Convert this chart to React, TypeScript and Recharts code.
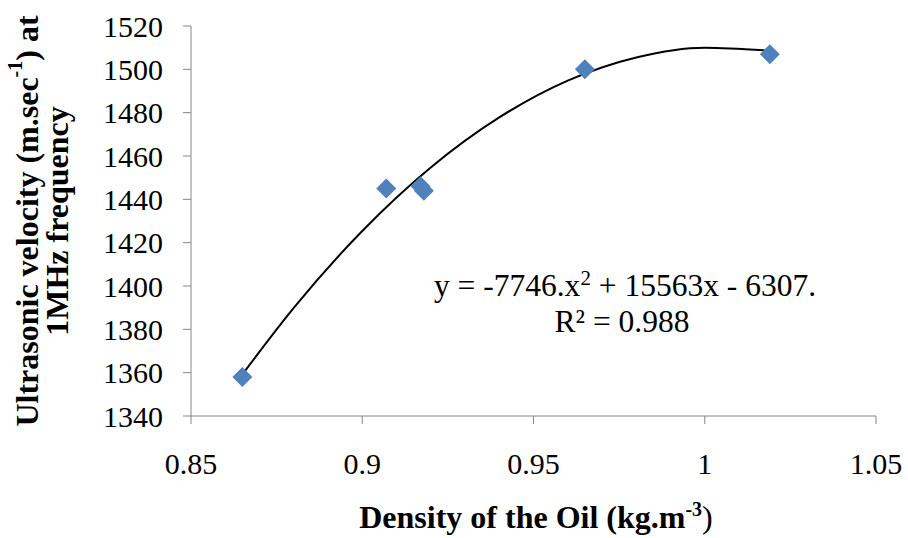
import React from 'react';
import { ComposedChart, Line, Scatter, XAxis, YAxis, Label } from 'recharts';

// measured samples (density kg/m3, ultrasonic velocity m/s)
const density = [0.865, 0.907, 0.917, 0.918, 0.965, 1.019];
const velocity = [1358, 1445, 1446, 1444, 1500, 1507];

// poly trendline
const trendX = [0.865, 0.88, 0.9, 0.92, 0.94, 0.96, 0.98, 1.0, 1.019];
const trendY = [1359.2, 1389.9, 1425.4, 1454.7, 1477.8, 1494.8, 1505.5, 1510, 1508.6];

const xTicks = [0.85, 0.9, 0.95, 1, 1.05];
const yTicks = [1340, 1360, 1380, 1400, 1420, 1440, 1460, 1480, 1500, 1520];

const points = density.map((x, i) => ({ x, y: velocity[i] }));
const trend = trendX.map((x, i) => ({ x, y: trendY[i] }));

const FONT = 'Liberation Serif';
const AXIS = '#868686';

const Diamond = (props: any) => {
    const { cx, cy } = props;
    const r = 10;
    return (
        <polygon
            points={`${cx},${cy - r} ${cx + r},${cy} ${cx},${cy + r} ${cx - r},${cy}`}
            fill="#4F81BD"
        />
    );
};

const XTitle = () => (
    <text x={536} y={528} textAnchor="middle" fontFamily={FONT} fontWeight="bold" fontSize={32} fill="#000">
        Density of the Oil (kg.m<tspan dy={-12} fontSize={20}>-3</tspan>
        <tspan dy={12} fontSize={32} fontWeight="normal">)</tspan>
    </text>
);

const YTitle = () => (
    <g fontFamily={FONT} fontWeight="bold" fontSize={32} fill="#000">
        <text x={27} y={221} textAnchor="middle" dominantBaseline="central" transform="rotate(-90 27 221)">
            Ultrasonic velocity  (m.sec<tspan dy={-12} fontSize={20}>-1</tspan>
            <tspan dy={12} fontSize={32}>) at</tspan>
        </text>
        <text x={57} y={221} textAnchor="middle" dominantBaseline="central" transform="rotate(-90 57 221)">
            1MHz frequency
        </text>
    </g>
);

const Equation = () => (
    <g fontFamily={FONT} fontSize={31.5} fill="#000">
        <text x={625} y={296} textAnchor="middle">
            y = -7746.x<tspan dy={-11} fontSize={21}>2</tspan>
            <tspan dy={11}> + 15563x - 6307.</tspan>
        </text>
        <text x={622} y={332} textAnchor="middle">R² = 0.988</text>
    </g>
);

export default function App() {
    return (
        <div style={{ position: 'absolute', left: 0, top: 0 }}>
            <ComposedChart width={908} height={538} margin={{ top: 26, right: 32, bottom: 0, left: 0 }}>
                <XAxis
                    type="number"
                    dataKey="x"
                    domain={[0.85, 1.05]}
                    ticks={xTicks}
                    tickFormatter={(v: number) => String(v)}
                    height={122}
                    stroke={AXIS}
                    tickSize={8}
                    tickMargin={29}
                    tick={{ fill: '#000', fontSize: 30, fontFamily: FONT }}
                    allowDataOverflow
                >
                    <Label content={<XTitle />} />
                </XAxis>
                <YAxis
                    type="number"
                    dataKey="y"
                    domain={[1340, 1520]}
                    ticks={yTicks}
                    width={191}
                    stroke={AXIS}
                    tickSize={8}
                    tickMargin={20}
                    tick={{ fill: '#000', fontSize: 30, fontFamily: FONT }}
                    allowDataOverflow
                >
                    <Label content={<YTitle />} />
                </YAxis>
                <Line
                    data={trend}
                    dataKey="y"
                    type="monotone"
                    stroke="#000"
                    strokeWidth={2}
                    dot={false}
                    activeDot={false}
                    isAnimationActive={false}
                    legendType="none"
                />
                <Scatter data={points} dataKey="y" shape={<Diamond />} isAnimationActive={false} />
            </ComposedChart>
            <svg width={908} height={538} style={{ position: 'absolute', left: 0, top: 0, pointerEvents: 'none' }}>
                <Equation />
            </svg>
        </div>
    );
}
